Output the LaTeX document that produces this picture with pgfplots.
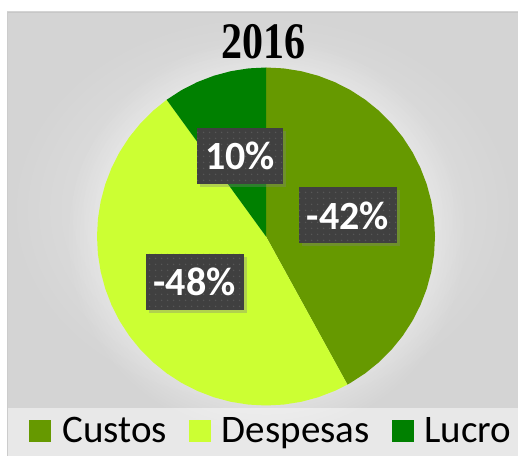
\documentclass[border=0pt]{standalone}
\usepackage{graphicx}
\usepackage{fontspec}
\setmainfont{Carlito}
\newfontfamily\titlefont{Liberation Serif}
\usepackage{pgfplots}
\pgfplotsset{compat=1.18}
\usepgfplotslibrary{polar}
\usetikzlibrary{shadows,fadings,patterns.meta}

\definecolor{custos}{HTML}{669900}
\definecolor{despesas}{HTML}{CCFF33}
\definecolor{lucro}{HTML}{008000}
\definecolor{lblbox}{HTML}{404040}
\definecolor{lbldot}{HTML}{575757}

% shares: Custos 42%, Despesas 48%, Lucro 10%
% angles start at 12 o'clock and run clockwise (1% = 3.6 degrees)

\begin{document}
\begin{tikzpicture}[x=1bp,y=1bp]
\useasboundingbox (0,0) rectangle (518,456);
% chart area
\shade[inner color=black!8, outer color=black!17] (7,48) rectangle (518,444);
\fill[black!9] (7,0) rectangle (518,48);
\draw[black!22, line width=0.8bp] (7,444) -- (518,444);
\draw[black!20, line width=0.8bp] (7.4,0) -- (7.4,444);
\fill[white, opacity=0.3, path fading=circle with fuzzy edge 20 percent] (266,219.5) circle (200);

\begin{polaraxis}[
    at={(266bp,219.5bp)}, anchor=center,
    scale only axis, width=338bp, height=338bp,
    hide axis, clip=false,
    xmin=0, xmax=360, ymin=0, ymax=1,
    title={\titlefont\bfseries\fontsize{42bp}{44bp}\selectfont\scalebox{1}[1.22]{2016}},
    title style={at={(0.494,1.033)}, anchor=center, inner sep=0pt},
    legend columns=3,
    legend style={at={(0.513,-0.0754)}, anchor=center, draw=none, fill=none,
        font=\fontsize{39bp}{44bp}\selectfont,
        nodes={inner sep=0bp},
        /tikz/every odd column/.style={column sep=11bp},
        /tikz/every even column/.style={column sep=22bp}},
    legend image code/.code={\fill[#1] (0bp,-11bp) rectangle (22bp,11bp);},
    every node near coord/.style={
        font=\bfseries\fontsize{40bp}{44bp}\selectfont, text=white,
        anchor=center, inner xsep=8bp, minimum height=56bp,
        drop shadow={shadow xshift=3bp, shadow yshift=-3bp, opacity=0.35},
        preaction={fill=lblbox},
        pattern={Dots[distance=6bp, radius=0.9bp]}, pattern color=lbldot},
]
\addplot[fill=custos, draw=none] coordinates {
    (0,0) (90,1) (84,1) (78,1) (72,1) (66,1) (60,1) (54,1) (48,1) (42,1)
    (36,1) (30,1) (24,1) (18,1) (12,1) (6,1) (0,1) (-6,1) (-12,1) (-18,1)
    (-24,1) (-30,1) (-36,1) (-42,1) (-48,1) (-54,1) (-60,1) (-61.2,1)} -- cycle;
\addlegendentry{Custos}
\addplot[fill=despesas, draw=none] coordinates {
    (0,0) (-61.2,1) (-66,1) (-72,1) (-78,1) (-84,1) (-90,1) (-96,1) (-102,1)
    (-108,1) (-114,1) (-120,1) (-126,1) (-132,1) (-138,1) (-144,1) (-150,1)
    (-156,1) (-162,1) (-168,1) (-174,1) (-180,1) (-186,1) (-192,1) (-198,1)
    (-204,1) (-210,1) (-216,1) (-222,1) (-228,1) (-234,1)} -- cycle;
\addlegendentry{Despesas}
\addplot[fill=lucro, draw=none] coordinates {
    (0,0) (126,1) (120,1) (114,1) (108,1) (102,1) (96,1) (90,1)} -- cycle;
\addlegendentry{Lucro}
% value labels at the middle of each slice
\addplot[draw=none, mark=none, forget plot, nodes near coords,
    point meta=explicit symbolic] coordinates {
    (14.4,0.5) [-42\%]
    (212.4,0.5) [-48\%]
    (108,0.5) [10\%]};
\end{polaraxis}
\end{tikzpicture}
\end{document}
